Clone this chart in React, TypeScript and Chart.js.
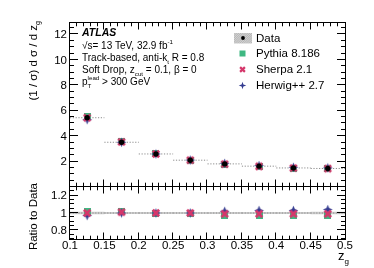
import React, { useEffect, useRef } from 'react';
import { Chart, registerables } from 'chart.js';

Chart.register(...registerables);

// ---------- data ----------
const binLow = [0.1, 0.15, 0.2, 0.25, 0.3, 0.35, 0.4, 0.45];
const binHigh = [0.15, 0.2, 0.25, 0.3, 0.35, 0.4, 0.45, 0.5];
const binCenter = [0.125, 0.175, 0.225, 0.275, 0.325, 0.375, 0.425, 0.475];

const dataValues = [5.45, 3.52, 2.6, 2.11, 1.82, 1.64, 1.5, 1.46];
const pythiaValues = [5.58, 3.58, 2.61, 2.09, 1.77, 1.59, 1.46, 1.42];
const sherpaValues = [5.45, 3.55, 2.6, 2.11, 1.8, 1.62, 1.49, 1.45];
const herwigValues = [5.3, 3.52, 2.6, 2.12, 1.86, 1.69, 1.55, 1.51];

const dataRatio = [1, 1, 1, 1, 1, 1, 1, 1];
const pythiaRatio = [1.02, 1.02, 1.0, 0.99, 0.97, 0.97, 0.97, 0.97];
const sherpaRatio = [1.0, 1.01, 1.0, 1.0, 0.99, 0.99, 0.99, 0.99];
const herwigRatio = [0.97, 1.0, 1.0, 1.0, 1.02, 1.03, 1.03, 1.04];
const ratioBandUp = [1.014, 1.012, 1.011, 1.011, 1.011, 1.012, 1.012, 1.013];
const ratioBandDown = [0.986, 0.988, 0.989, 0.989, 0.989, 0.988, 0.988, 0.987];

const xTickLabels = ['0.1', '0.15', '0.2', '0.25', '0.3', '0.35', '0.4', '0.45', '0.5'];
const mainYTickLabels = ['2', '4', '6', '8', '10', '12'];
const ratioYTickLabels = ['0.8', '1', '1.2'];

const legendLabels = ['Data', 'Pythia 8.186', 'Sherpa 2.1', 'Herwig++ 2.7'];

// ---------- styles ----------
const FONT = '"Liberation Sans", Arial, Helvetica, sans-serif';
const PYTHIA = '#3fb882';
const SHERPA = '#d5376b';
const HERWIG = '#353d91';
const DOT = '#8c8c8c';

type Ctx = CanvasRenderingContext2D;

function drawSquare(ctx: Ctx, x: number, y: number, s: number, c: string) {
  ctx.fillStyle = c;
  ctx.fillRect(x - s / 2, y - s / 2, s, s);
}
function drawX(ctx: Ctx, x: number, y: number, s: number, c: string, lw: number) {
  ctx.strokeStyle = c;
  ctx.lineWidth = lw;
  ctx.lineCap = 'butt';
  const h = s / 2;
  ctx.beginPath();
  ctx.moveTo(x - h, y - h);
  ctx.lineTo(x + h, y + h);
  ctx.moveTo(x + h, y - h);
  ctx.lineTo(x - h, y + h);
  ctx.stroke();
}
function drawStar(ctx: Ctx, x: number, y: number, r: number, w: number, c: string) {
  ctx.fillStyle = c;
  ctx.beginPath();
  ctx.moveTo(x, y - r);
  ctx.lineTo(x + w, y - w);
  ctx.lineTo(x + r, y);
  ctx.lineTo(x + w, y + w);
  ctx.lineTo(x, y + r);
  ctx.lineTo(x - w, y + w);
  ctx.lineTo(x - r, y);
  ctx.lineTo(x - w, y - w);
  ctx.closePath();
  ctx.fill();
}

function makeMarker(size: number, draw: (ctx: Ctx, c: number) => void): HTMLCanvasElement {
  const cv = document.createElement('canvas');
  cv.width = size;
  cv.height = size;
  const ctx = cv.getContext('2d') as Ctx;
  draw(ctx, size / 2);
  return cv;
}

type Part = { t: string; k?: 'sub' | 'sup' | 'subsup'; t2?: string };

function richWidth(ctx: Ctx, parts: Part[], size: number, weight = '') {
  let w = 0;
  for (const p of parts) {
    if (!p.k) {
      ctx.font = `${weight}${size}px ${FONT}`;
      w += ctx.measureText(p.t).width;
    } else {
      ctx.font = `${size * 0.62}px ${FONT}`;
      const w1 = ctx.measureText(p.t).width;
      const w2 = p.t2 ? ctx.measureText(p.t2).width : 0;
      w += Math.max(w1, w2);
    }
  }
  return w;
}

function drawRich(ctx: Ctx, x: number, y: number, parts: Part[], size: number, weight = '') {
  let cx = x;
  ctx.textAlign = 'left';
  ctx.textBaseline = 'alphabetic';
  for (const p of parts) {
    if (!p.k) {
      ctx.font = `${weight}${size}px ${FONT}`;
      ctx.fillText(p.t, cx, y);
      cx += ctx.measureText(p.t).width;
    } else {
      ctx.font = `${size * 0.62}px ${FONT}`;
      const w1 = ctx.measureText(p.t).width;
      if (p.k === 'sub') {
        ctx.fillText(p.t, cx, y + size * 0.3);
        cx += w1;
      } else if (p.k === 'sup') {
        ctx.fillText(p.t, cx, y - size * 0.42);
        cx += w1;
      } else {
        ctx.fillText(p.t, cx, y - size * 0.45);
        const w2 = ctx.measureText(p.t2 || '').width;
        ctx.fillText(p.t2 || '', cx, y + size * 0.32);
        cx += Math.max(w1, w2);
      }
    }
  }
}

function drawXTicks(ctx: Ctx, chart: any, majorLen: number, minorLen: number) {
  const a = chart.chartArea;
  const xs = chart.scales.x;
  ctx.beginPath();
  for (let i = 11; i < 50; i++) {
    const px = Math.round(xs.getPixelForValue(i / 100)) - 0.5;
    const L = i % 5 === 0 ? majorLen : minorLen;
    ctx.moveTo(px, a.top);
    ctx.lineTo(px, a.top + L);
    ctx.moveTo(px, a.bottom);
    ctx.lineTo(px, a.bottom - L);
  }
  ctx.stroke();
}

function drawYTicks(ctx: Ctx, chart: any, values: number[], majors: (v: number) => boolean, majorLen: number, minorLen: number) {
  const a = chart.chartArea;
  const ys = chart.scales.y;
  ctx.beginPath();
  for (const v of values) {
    const py = Math.round(ys.getPixelForValue(v)) - 0.5;
    if (py <= a.top || py >= a.bottom) continue;
    const L = majors(v) ? majorLen : minorLen;
    ctx.moveTo(a.left, py);
    ctx.lineTo(a.left + L, py);
    ctx.moveTo(a.right, py);
    ctx.lineTo(a.right - L, py);
  }
  ctx.stroke();
}

function drawFrame(ctx: Ctx, a: any) {
  ctx.strokeStyle = '#000';
  ctx.lineWidth = 1;
  ctx.strokeRect(a.left - 0.5, a.top - 0.5, a.right - a.left + 1, a.bottom - a.top + 1);
}

function dottedSegments(values: number[]) {
  const pts: { x: number; y: number | null }[] = [];
  for (let i = 0; i < values.length; i++) {
    pts.push({ x: binLow[i], y: values[i] });
    pts.push({ x: binHigh[i], y: values[i] });
    pts.push({ x: binHigh[i], y: null });
  }
  return pts;
}

function stepBand(values: number[]) {
  const pts: { x: number; y: number }[] = [];
  for (let i = 0; i < values.length; i++) {
    pts.push({ x: binLow[i], y: values[i] });
    pts.push({ x: binHigh[i], y: values[i] });
  }
  return pts;
}

export default function App() {
  const topRef = useRef<HTMLCanvasElement>(null);
  const botRef = useRef<HTMLCanvasElement>(null);

  useEffect(() => {
    const pythiaImg = makeMarker(7, (c, m) => drawSquare(c, m, m, 7, PYTHIA));
    const sherpaImg = makeMarker(10, (c, m) => drawX(c, m, m, 6.4, SHERPA, 2.8));
    const herwigImg = makeMarker(11, (c, m) => drawStar(c, m, m, 4.8, 1.4, HERWIG));

    const topPlugin = {
      id: 'topDecor',
      afterDraw(chart: any) {
        const ctx: Ctx = chart.ctx;
        const a = chart.chartArea;
        ctx.save();
        drawFrame(ctx, a);
        drawXTicks(ctx, chart, 6.5, 3.3);
        const yv: number[] = [];
        for (let i = 1; i <= 25; i++) yv.push(i / 2);
        drawYTicks(ctx, chart, yv, (v) => v % 2 === 0, 8, 4);

        // y tick labels
        ctx.fillStyle = '#000';
        ctx.font = `11.5px ${FONT}`;
        ctx.textAlign = 'right';
        ctx.textBaseline = 'middle';
        for (const lab of mainYTickLabels) {
          const py = chart.scales.y.getPixelForValue(parseFloat(lab));
          ctx.fillText(lab, a.left - 3, py + 0.5);
        }

        // y title (rotated)
        const title: Part[] = [{ t: '(1 / σ) d σ / d z' }, { t: 'g', k: 'sub' }];
        ctx.save();
        ctx.translate(37, 21);
        ctx.rotate(-Math.PI / 2);
        const tw = richWidth(ctx, title, 11.5);
        drawRich(ctx, -tw, 0, title, 11.5);
        ctx.restore();

        // ATLAS text block
        ctx.fillStyle = '#000';
        drawRich(ctx, 82, 36, [{ t: 'ATLAS' }], 10.5, 'italic bold ');
        drawRich(ctx, 82, 48.5, [{ t: '√s= 13 TeV, 32.9 fb' }, { t: '-1', k: 'sup' }], 10);
        drawRich(ctx, 82, 60.5, [{ t: 'Track-based, anti-k' }, { t: 't', k: 'sub' }, { t: ' R = 0.8' }], 10);
        drawRich(ctx, 82, 72.5, [{ t: 'Soft Drop, z' }, { t: 'cut', k: 'sub' }, { t: ' = 0.1, β = 0' }], 10);
        drawRich(ctx, 82, 84.7, [{ t: 'p' }, { t: 'lead', k: 'subsup', t2: 'T' }, { t: ' > 300 GeV' }], 10);

        // legend
        const lx = 243;
        const ly = [38, 53.5, 69.5, 85.5];
        ctx.fillStyle = '#d2d2d2';
        ctx.fillRect(234, 33, 18, 10.5);
        ctx.save();
        ctx.beginPath();
        ctx.rect(234, 33, 18, 10.5);
        ctx.clip();
        ctx.strokeStyle = 'rgba(150,150,150,0.8)';
        ctx.lineWidth = 0.6;
        ctx.beginPath();
        for (let k = -10; k < 20; k += 2.2) {
          ctx.moveTo(234 + k, 43.5);
          ctx.lineTo(234 + k + 10.5, 33);
        }
        ctx.stroke();
        ctx.restore();
        ctx.fillStyle = '#000';
        ctx.beginPath();
        ctx.arc(lx, ly[0], 1.9, 0, Math.PI * 2);
        ctx.fill();
        drawSquare(ctx, lx - 0.5, ly[1], 6, PYTHIA);
        drawX(ctx, lx - 0.5, ly[2], 4.8, SHERPA, 2.2);
        drawStar(ctx, lx - 0.5, ly[3], 3.8, 0.9, HERWIG);

        ctx.fillStyle = '#000';
        ctx.font = `11.5px ${FONT}`;
        ctx.textAlign = 'left';
        ctx.textBaseline = 'middle';
        legendLabels.forEach((lab, i) => ctx.fillText(lab, 256, ly[i] + 0.5));
        ctx.restore();
      },
    };

    const botPlugin = {
      id: 'botDecor',
      afterDraw(chart: any) {
        const ctx: Ctx = chart.ctx;
        const a = chart.chartArea;
        ctx.save();
        drawFrame(ctx, a);
        drawXTicks(ctx, chart, 6.5, 3.3);
        const yv: number[] = [];
        for (let i = 70; i <= 130; i += 5) yv.push(i / 100);
        drawYTicks(ctx, chart, yv, (v) => Math.round(v * 100) % 20 === 0, 8, 4);

        ctx.fillStyle = '#000';
        ctx.font = `11.5px ${FONT}`;
        ctx.textAlign = 'right';
        ctx.textBaseline = 'middle';
        for (const lab of ratioYTickLabels) {
          const py = chart.scales.y.getPixelForValue(parseFloat(lab));
          ctx.fillText(lab, a.left - 3, py + 0.5);
        }

        ctx.textAlign = 'center';
        ctx.textBaseline = 'alphabetic';
        for (const lab of xTickLabels) {
          const px = chart.scales.x.getPixelForValue(parseFloat(lab));
          ctx.fillText(lab, px, 249);
        }

        // x title
        const xt: Part[] = [{ t: 'z' }, { t: 'g', k: 'sub' }];
        const xw = richWidth(ctx, xt, 13);
        drawRich(ctx, 349 - xw, 260, xt, 13);

        // ratio y title
        const rt: Part[] = [{ t: 'Ratio to Data' }];
        ctx.save();
        ctx.translate(37, 183);
        ctx.rotate(-Math.PI / 2);
        const rw = richWidth(ctx, rt, 11.5);
        drawRich(ctx, -rw, 0, rt, 11.5);
        ctx.restore();
        ctx.restore();
      },
    };

    const common = {
      responsive: false,
      animation: false as const,
      events: [] as any[],
      plugins: { legend: { display: false }, tooltip: { enabled: false } },
    };

    const top = new Chart(topRef.current as HTMLCanvasElement, {
      type: 'scatter',
      data: {
        datasets: [
          {
            data: dottedSegments(dataValues) as any,
            showLine: true,
            borderColor: DOT,
            borderWidth: 1,
            borderDash: [1.2, 1.6],
            pointRadius: 0,
            spanGaps: false,
            order: 10,
          } as any,
          {
            data: binCenter.map((x, i) => ({ x, y: pythiaValues[i] })),
            pointStyle: pythiaImg,
            pointRadius: 4,
            order: 4,
          },
          {
            data: binCenter.map((x, i) => ({ x, y: herwigValues[i] })),
            pointStyle: herwigImg,
            pointRadius: 4,
            order: 3,
          },
          {
            data: binCenter.map((x, i) => ({ x, y: sherpaValues[i] })),
            pointStyle: sherpaImg,
            pointRadius: 4,
            order: 2,
          },
          {
            data: binCenter.map((x, i) => ({ x, y: dataValues[i] })),
            pointStyle: 'circle',
            pointRadius: 2.7,
            backgroundColor: '#000',
            borderWidth: 0,
            order: 1,
          },
        ],
      },
      options: {
        ...common,
        layout: { padding: { left: 70, right: 29, top: 23, bottom: 82 } },
        scales: {
          x: { type: 'linear', min: 0.1, max: 0.5, display: false },
          y: { type: 'linear', min: 0.08, max: 12.9, display: false },
        },
      } as any,
      plugins: [topPlugin],
    });

    const bot = new Chart(botRef.current as HTMLCanvasElement, {
      type: 'scatter',
      data: {
        datasets: [
          {
            data: stepBand(ratioBandUp),
            showLine: true,
            borderWidth: 0,
            pointRadius: 0,
            fill: '+1',
            backgroundColor: 'rgba(165,165,165,0.55)',
            order: 12,
          } as any,
          {
            data: stepBand(ratioBandDown),
            showLine: true,
            borderWidth: 0,
            pointRadius: 0,
            order: 11,
          } as any,
          {
            data: dottedSegments(dataRatio) as any,
            showLine: true,
            borderColor: DOT,
            borderWidth: 1,
            borderDash: [1.2, 1.6],
            pointRadius: 0,
            spanGaps: false,
            order: 10,
          } as any,
          {
            data: binCenter.map((x, i) => ({ x, y: pythiaRatio[i] })),
            pointStyle: pythiaImg,
            pointRadius: 4,
            order: 4,
          },
          {
            data: binCenter.map((x, i) => ({ x, y: herwigRatio[i] })),
            pointStyle: herwigImg,
            pointRadius: 4,
            order: 3,
          },
          {
            data: binCenter.map((x, i) => ({ x, y: sherpaRatio[i] })),
            pointStyle: sherpaImg,
            pointRadius: 4,
            order: 2,
          },
        ],
      },
      options: {
        ...common,
        layout: { padding: { left: 70, right: 29, top: 187, bottom: 29 } },
        scales: {
          x: { type: 'linear', min: 0.1, max: 0.5, display: false },
          y: { type: 'linear', min: 0.7, max: 1.3, display: false },
        },
      } as any,
      plugins: [botPlugin],
    });

    return () => {
      top.destroy();
      bot.destroy();
    };
  }, []);

  const cvStyle: React.CSSProperties = { position: 'absolute', left: 0, top: 0, width: 374, height: 268, display: 'block' };
  return (
    <div style={{ position: 'fixed', left: 0, top: 0, width: 374, height: 268, background: '#fff' }}>
      <canvas ref={topRef} width={374} height={268} style={cvStyle} />
      <canvas ref={botRef} width={374} height={268} style={cvStyle} />
    </div>
  );
}
